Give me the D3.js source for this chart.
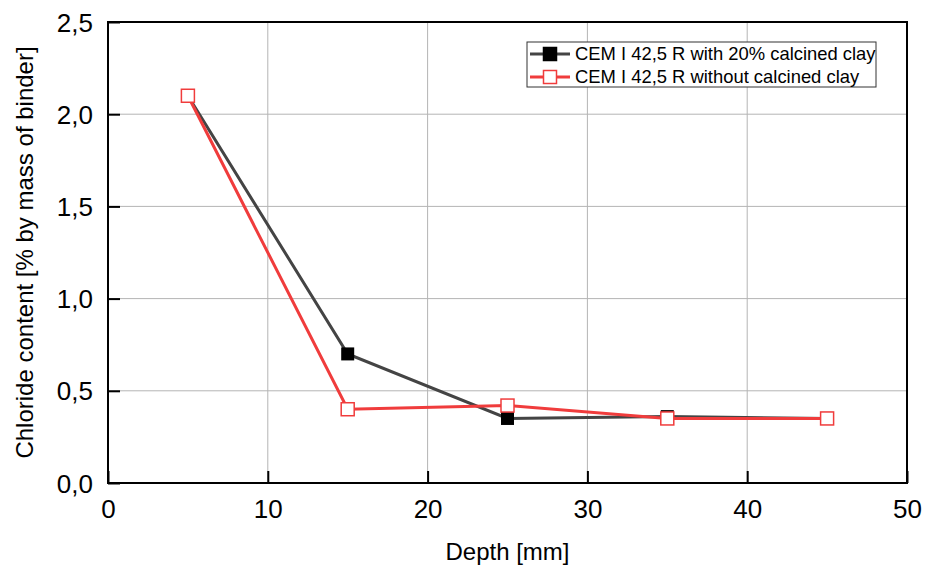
<!DOCTYPE html>
<html>
<head>
<meta charset="utf-8">
<script src="https://cdn.jsdelivr.net/npm/d3@7"></script>
<style>
  body { margin: 0; background: #fff; }
  svg { display: block; font-family: Arial, "Liberation Sans", sans-serif; }
</style>
</head>
<body>
<div id="chart"></div>
<script>
// Data
const depths = [5, 15, 25, 35, 45];
const withClay = [2.10, 0.70, 0.35, 0.36, 0.35];
const withoutClay = [2.10, 0.40, 0.42, 0.35, 0.35];
const xTicks = [0, 10, 20, 30, 40, 50];
const yTicks = [0, 0.5, 1.0, 1.5, 2.0, 2.5];
const seriesNames = ['CEM I 42,5 R with 20% calcined clay', 'CEM I 42,5 R without calcined clay'];

const width = 925, height = 568;
const margin = { top: 22, right: 18, bottom: 85, left: 108 };
const innerW = width - margin.left - margin.right;
const innerH = height - margin.top - margin.bottom;

const svg = d3.select('#chart').append('svg')
    .attr('width', width)
    .attr('height', height);

const g = svg.append('g')
    .attr('transform', `translate(${margin.left},${margin.top})`);

const x = d3.scaleLinear().domain([0, 50]).range([0, innerW]);
const y = d3.scaleLinear().domain([0, 2.5]).range([innerH, 0]);

const fmt = d => d3.format('.1f')(d).replace('.', ',');

// Grid
g.append('g').selectAll('line')
    .data(xTicks.slice(1, -1))
    .join('line')
    .attr('x1', d => x(d)).attr('x2', d => x(d))
    .attr('y1', 0).attr('y2', innerH)
    .attr('stroke', '#b4b4b4').attr('stroke-width', 1);

g.append('g').selectAll('line')
    .data(yTicks.slice(1, -1))
    .join('line')
    .attr('y1', d => y(d)).attr('y2', d => y(d))
    .attr('x1', 0).attr('x2', innerW)
    .attr('stroke', '#b4b4b4').attr('stroke-width', 1);

// Axes (inward ticks)
const xAxis = g.append('g')
    .attr('transform', `translate(0,${innerH})`)
    .call(d3.axisBottom(x).tickValues(xTicks).tickSizeInner(-12).tickSizeOuter(0));
const yAxis = g.append('g')
    .call(d3.axisLeft(y).tickValues(yTicks).tickFormat(fmt).tickSizeInner(-12).tickSizeOuter(0));

[xAxis, yAxis].forEach(a => {
    a.select('.domain').remove();
    a.selectAll('.tick line').attr('stroke', '#000').attr('stroke-width', 2);
    a.selectAll('.tick text')
        .attr('font-size', '26px')
        .attr('fill', '#000')
        .attr('font-family', 'Arial, "Liberation Sans", sans-serif');
});
xAxis.selectAll('.tick text').attr('y', 17).attr('dy', '0.71em');
yAxis.selectAll('.tick text').attr('x', -15).attr('dy', '0.35em');

// Frame
g.append('rect')
    .attr('width', innerW).attr('height', innerH)
    .attr('fill', 'none').attr('stroke', '#000').attr('stroke-width', 2);

// Lines
const line = d3.line().x(d => x(d[0])).y(d => y(d[1]));
const ptsA = depths.map((d, i) => [d, withClay[i]]);
const ptsB = depths.map((d, i) => [d, withoutClay[i]]);

g.append('path').datum(ptsA)
    .attr('d', line).attr('fill', 'none')
    .attr('stroke', '#444').attr('stroke-width', 3);

g.append('g').selectAll('rect')
    .data(ptsA)
    .join('rect')
    .attr('x', d => x(d[0]) - 6.5).attr('y', d => y(d[1]) - 6.5)
    .attr('width', 13).attr('height', 13)
    .attr('fill', '#000');

g.append('path').datum(ptsB)
    .attr('d', line).attr('fill', 'none')
    .attr('stroke', '#f03c3c').attr('stroke-width', 3);

g.append('g').selectAll('rect')
    .data(ptsB)
    .join('rect')
    .attr('x', d => x(d[0]) - 6.5).attr('y', d => y(d[1]) - 6.5)
    .attr('width', 13).attr('height', 13)
    .attr('fill', '#fff').attr('stroke', '#f03c3c').attr('stroke-width', 1.5);

// Axis titles
svg.append('text')
    .attr('x', margin.left + innerW / 2).attr('y', 560)
    .attr('text-anchor', 'middle')
    .attr('font-size', '24px')
    .text('Depth [mm]');

svg.append('text')
    .attr('transform', `translate(33,${margin.top + innerH / 2}) rotate(-90)`)
    .attr('text-anchor', 'middle')
    .attr('font-size', '24px')
    .text('Chloride content [% by mass of binder]');

// Legend
const legend = svg.append('g').attr('transform', 'translate(527,42)');
legend.append('rect')
    .attr('width', 349).attr('height', 45)
    .attr('fill', '#fff').attr('stroke', '#333').attr('stroke-width', 1);

const legendItems = [
    { name: seriesNames[0], stroke: '#444', fill: '#000', mstroke: '#000' },
    { name: seriesNames[1], stroke: '#f03c3c', fill: '#fff', mstroke: '#f03c3c' }
];
const rows = legend.selectAll('g.item')
    .data(legendItems)
    .join('g')
    .attr('class', 'item')
    .attr('transform', (d, i) => `translate(0,${12 + i * 23})`);

rows.append('line')
    .attr('x1', 3).attr('x2', 43)
    .attr('stroke', d => d.stroke).attr('stroke-width', 3);
rows.append('rect')
    .attr('x', 16.5).attr('y', -6.5).attr('width', 13).attr('height', 13)
    .attr('fill', d => d.fill).attr('stroke', d => d.mstroke).attr('stroke-width', 1.5);
rows.append('text')
    .attr('x', 48).attr('dy', '0.35em')
    .attr('font-size', '18.4px')
    .text(d => d.name);
</script>
</body>
</html>
